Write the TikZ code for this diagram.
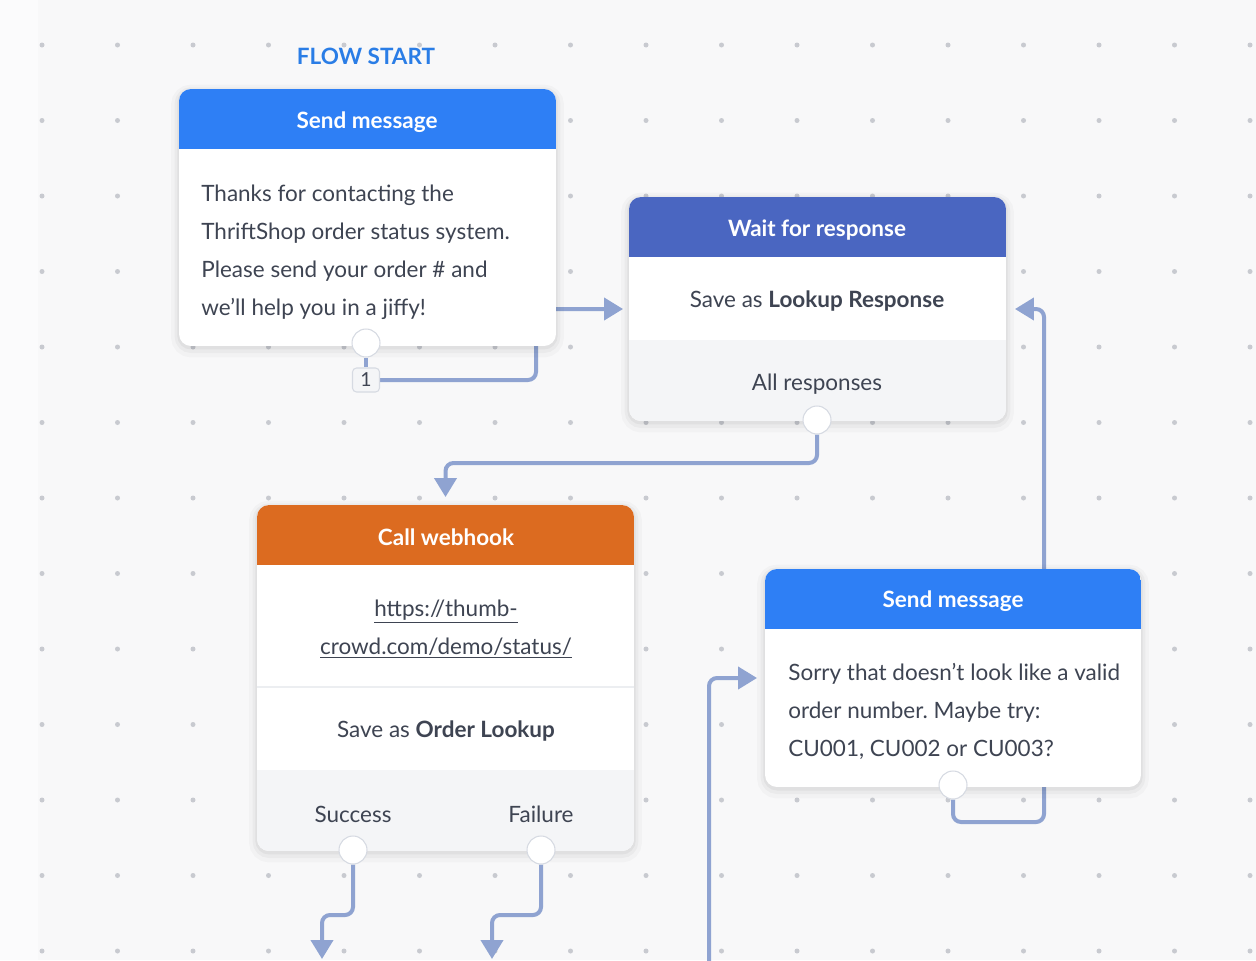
\documentclass[tikz,border=0pt]{standalone}
\usepackage{fontspec}
\setmainfont{Lato}
\usepackage{xcolor}
\usetikzlibrary{arrows.meta,positioning}
\frenchspacing

\definecolor{canvas}{RGB}{248,248,249}
\definecolor{strip}{RGB}{251,251,252}
\definecolor{griddot}{RGB}{200,202,208}
\definecolor{ink}{RGB}{62,68,82}
\definecolor{msgblue}{RGB}{46,127,245}
\definecolor{waitblue}{RGB}{74,102,193}
\definecolor{hookorange}{RGB}{220,107,32}
\definecolor{startblue}{RGB}{42,125,230}
\definecolor{footgray}{RGB}{244,245,247}
\definecolor{sepgray}{RGB}{236,238,241}
\definecolor{wire}{RGB}{143,163,209}
\definecolor{portrim}{RGB}{214,218,226}

\pgfdeclarelayer{back}
\pgfdeclarelayer{wires}
\pgfsetlayers{back,wires,main}

\begin{document}
\begin{tikzpicture}[
  x=0.02cm, y=-0.02cm,
  card/.style={rectangle, rounded corners=0.24cm, fill=white, inner sep=0pt,
               outer sep=0pt,
               preaction={draw=black, draw opacity=0.025, line width=9pt,
                          transform canvas={yshift=-2pt}},
               preaction={draw=black, draw opacity=0.03, line width=5pt,
                          transform canvas={yshift=-1.5pt}},
               preaction={draw=black, draw opacity=0.04, line width=2pt,
                          transform canvas={yshift=-1pt}}},
  ttl/.style={text=white, font=\bfseries\fontsize{12.8}{15}\selectfont},
  txt/.style={text=ink, font=\fontsize{12.8}{21.6}\selectfont, inner sep=0pt},
  port/.style={circle, fill=white, draw=portrim, line width=0.6pt,
               minimum size=0.56cm, inner sep=0pt},
  flow/.style={draw=wire, line width=0.08cm, rounded corners=0.16cm},
  flowarr/.style={flow, -{Triangle[width=0.44cm,length=0.38cm]}}
]
\useasboundingbox (0,0) rectangle (1256,960);

% canvas and dot grid
\begin{pgfonlayer}{back}
\fill[canvas] (0,0) rectangle (1256,960);
\fill[strip] (0,0) rectangle (38,960);
\foreach \i in {0,...,16}
  \foreach \j in {0,...,12}
    \fill[griddot] (42+75.5*\i, 45+75.5*\j) circle (0.05cm);
\end{pgfonlayer}

\node[font=\bfseries\fontsize{12.8}{15}\selectfont, text=startblue] (start) at (366,56) {FLOW START};

% cards
\node[card, minimum width=7.54cm, minimum height=5.14cm] (msgA) at (367.5,217.5) {};
\node[card, minimum width=7.54cm, minimum height=4.48cm] (wait) at (817.5,309) {};
\node[card, minimum width=7.54cm, minimum height=6.92cm] (hook) at (445.5,678) {};
\node[card, minimum width=7.52cm, minimum height=4.36cm] (sorry) at (953,678) {};

% headers, footers
\begin{scope}
  \clip[rounded corners=0.24cm] (msgA.north west) rectangle (msgA.south east);
  \fill[msgblue] (179,89) rectangle (556,149);
\end{scope}
\begin{scope}
  \clip[rounded corners=0.24cm] (wait.north west) rectangle (wait.south east);
  \fill[waitblue] (629,197) rectangle (1006,257);
  \fill[footgray] (629,340) rectangle (1006,421);
\end{scope}
\begin{scope}
  \clip[rounded corners=0.24cm] (hook.north west) rectangle (hook.south east);
  \fill[hookorange] (257,505) rectangle (634,565);
  \draw[sepgray, line width=1pt] (257,687) -- (634,687);
  \fill[footgray] (257,770) rectangle (634,851);
\end{scope}
\begin{scope}
  \clip[rounded corners=0.24cm] (sorry.north west) rectangle (sorry.south east);
  \fill[msgblue] (765,569) rectangle (1141,629);
\end{scope}

% titles and texts
\node[ttl] (msgAttl) at (367,122) {Send message};
\node[txt, align=left, anchor=west] (msgAtxt) at (201,252)
  {Thanks for contacting the\\ThriftShop order status system.\\Please send your order \# and\\we'll help you in a jiffy!};

\node[ttl] (waitttl) at (817,230) {Wait for response};
\node[txt] (waitsave) at (817,301) {Save as \textbf{Lookup Response}};
\node[txt] (waitall) at (817,384) {All responses};

\node[ttl] (hookttl) at (446,537) {Call webhook};
\node[txt, align=center] (hookurl) at (446,629)
  {\underline{https://thumb-}\\\underline{crowd.com/demo/status/}};
\node[txt] (hooksave) at (446,731) {Save as \textbf{Order Lookup}};
\node[txt] (hookok) at (353,814) {Success};
\node[txt] (hookfail) at (541,814) {Failure};

\node[ttl] (sorryttl) at (953,601) {Send message};
\node[txt, align=left, anchor=west] (sorrytxt) at (788,711)
  {Sorry that doesn't look like a valid\\order number. Maybe try:\\CU001, CU002 or CU003?};

% ports
\node[port] (pA) at (366,343) {};
\node[port] (pB) at (817,420) {};
\node[port] (pOk) at (353,850) {};
\node[port] (pFail) at (541,850) {};
\node[port] (pD) at (953,785) {};
\node[rectangle, rounded corners=0.08cm, fill=footgray, draw=portrim,
      line width=0.6pt, minimum width=0.54cm, minimum height=0.48cm,
      inner sep=0pt, text=ink, font=\fontsize{11}{13}\selectfont] (badge) at (366,380) {1};

\coordinate (okEnd) at (322,959);
\coordinate (failEnd) at (492,959);
\coordinate (loopIn) at (709,962);

% connectors
\begin{pgfonlayer}{wires}
\draw[flow] (pA) -- (badge);
\draw[flowarr, shorten >=0.12cm] (badge.east) -| (536,309) -- (wait.west);
\draw[flowarr, shorten >=0.16cm] (pB) |- (445.5,463) -- (hook.north);
\draw[flowarr] (pOk) |- (322,915) -- (okEnd);
\draw[flowarr] (pFail) |- (492,915) -- (failEnd);
\draw[flowarr, shorten >=0.16cm] (loopIn) |- (sorry.west);
\draw[flowarr, shorten >=0.18cm] (pD) |- (1044,822) -- (1044,309) -- (wait.east);
\end{pgfonlayer}

\end{tikzpicture}
\end{document}
